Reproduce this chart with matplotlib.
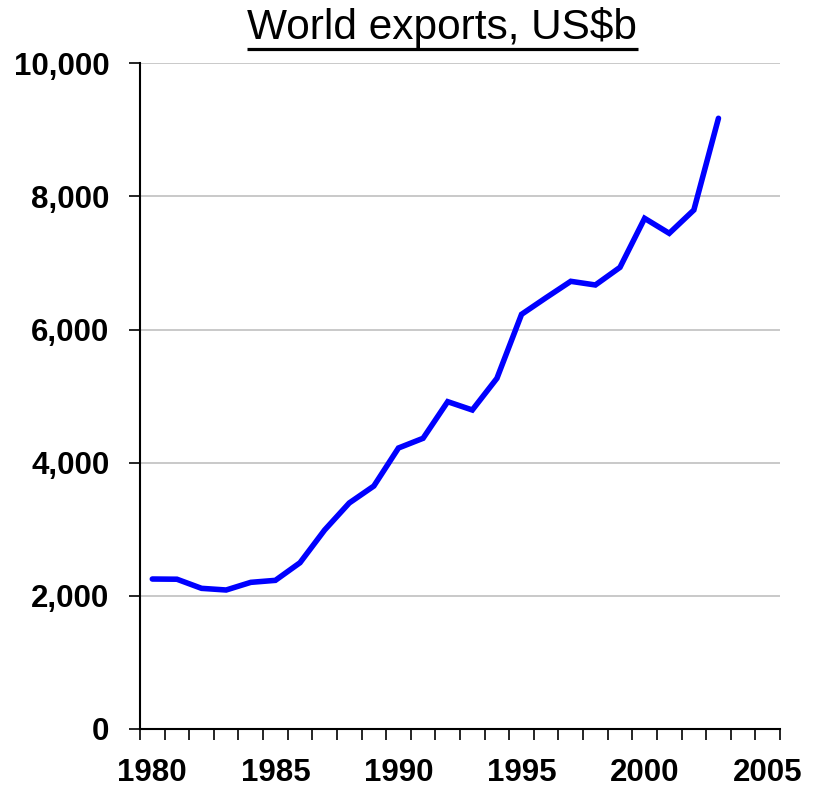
import matplotlib
matplotlib.use("Agg")
import matplotlib.pyplot as plt
from matplotlib.lines import Line2D
from matplotlib.ticker import FuncFormatter, FixedLocator

years = list(range(1980, 2004))
exports = [2253, 2250, 2113, 2088, 2203, 2233, 2498, 2989, 3395, 3650,
           4221, 4367, 4917, 4792, 5268, 6229, 6480, 6725, 6670, 6935,
           7671, 7446, 7796, 9174]
year_labels = [1980, 1985, 1990, 1995, 2000, 2005]
y_ticks = [0, 2000, 4000, 6000, 8000, 10000]
title = "World exports, US$b"

plt.rcParams['font.family'] = ['Liberation Sans', 'DejaVu Sans']

W, H = 816, 791
fig = plt.figure(figsize=(W / 100, H / 100), dpi=100)
ax = fig.add_axes([140 / W, 1 - 729 / H, 640 / W, (729 - 63.3) / H])

ax.plot(years, exports, color='#0000ff', lw=4.0, solid_capstyle='round',
        solid_joinstyle='miter', zorder=3)

ax.set_xlim(1979.5, 2005.5)
ax.set_ylim(0, 10000)
ax.set_yticks(y_ticks)
ax.yaxis.set_major_formatter(FuncFormatter(lambda v, p: f"{int(v):,}"))
ax.set_xticks(year_labels)
ax.xaxis.set_minor_locator(FixedLocator([1979.5 + i for i in range(27)]))

for s in ['top', 'right']:
    ax.spines[s].set_visible(False)
for s in ['left', 'bottom']:
    ax.spines[s].set_linewidth(1.5)
    ax.spines[s].set_color('black')

ax.grid(axis='y', color='#c0c0c0', lw=1.2, zorder=0)
ax.set_axisbelow(True)

ax.tick_params(axis='y', which='major', direction='out', length=8, width=1.2,
               pad=14, labelsize=22.5)
ax.tick_params(axis='x', which='major', length=0, pad=21, labelsize=22.5)
ax.tick_params(axis='x', which='minor', direction='out', length=8, width=1.2)
for lbl in ax.get_xticklabels() + ax.get_yticklabels():
    lbl.set_fontweight('bold')

t = fig.text(442.5 / W, 1 - 39.3 / H, title, ha='center', va='baseline',
             fontsize=30.5, color='black')

fig.canvas.draw()
bb = t.get_window_extent()
uy = H - 48.5
fig.add_artist(Line2D([bb.x0, bb.x1], [uy, uy], transform=None,
                      color='black', lw=2.3, solid_capstyle='butt'))

fig.savefig('out.png', dpi=100)
